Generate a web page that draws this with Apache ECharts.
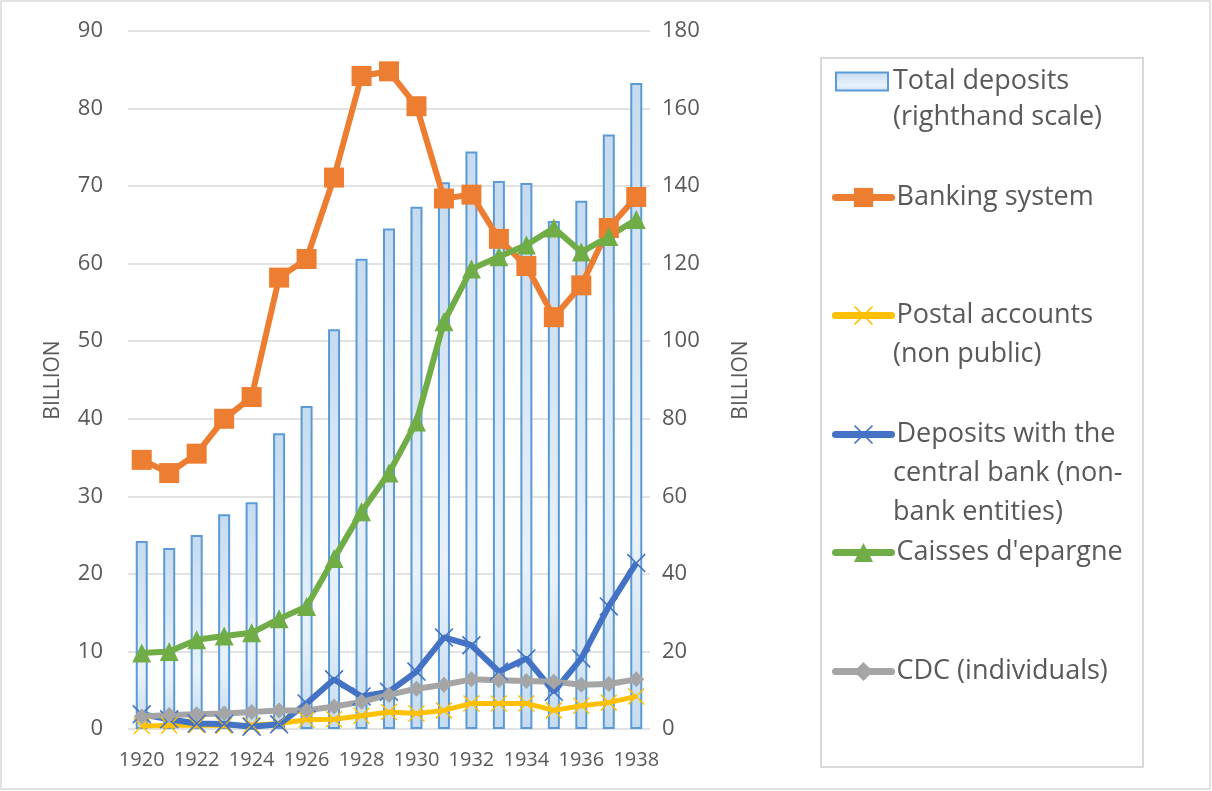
<!DOCTYPE html>
<html>
<head>
<meta charset="utf-8">
<script src="https://cdn.jsdelivr.net/npm/echarts@6/dist/echarts.min.js"></script>
<style>
  html, body { margin: 0; padding: 0; background: #fff; }
  #chart { width: 1212px; height: 791px; }
</style>
</head>
<body>
<div id="chart"></div>
<script>
const years = ["1920","1921","1922","1923","1924","1925","1926","1927","1928","1929",
  "1930","1931","1932","1933","1934","1935","1936","1937","1938"];
// billions, right-hand scale
const totalDeposits = [48.5,46.7,50.0,55.4,58.5,76.3,83.3,103.1,121.3,129.1,134.7,141.0,148.9,141.3,140.8,131.0,136.2,153.3,166.6];
// billions, left-hand scale
const banking = [34.7,33.0,35.5,40.0,42.8,58.2,60.6,71.1,84.2,84.8,80.3,68.4,68.9,63.2,59.7,53.1,57.2,64.6,68.6];
const postal = [0.4,0.45,0.5,0.45,0.5,0.7,1.2,1.25,1.7,2.2,2.0,2.4,3.3,3.3,3.3,2.4,3.0,3.4,4.2];
const centralBank = [1.9,1.25,0.7,0.65,0.3,0.6,3.3,6.4,4.2,4.8,7.4,11.8,10.8,7.4,9.1,4.8,9.1,15.8,21.4];
const caisses = [9.8,10.0,11.5,12.0,12.4,14.2,15.8,22.0,28.0,33.0,39.6,52.5,59.3,60.9,62.4,64.6,61.5,63.5,65.7];
const cdc = [1.6,1.8,1.9,2.0,2.2,2.4,2.4,2.9,3.5,4.4,5.2,5.7,6.4,6.3,6.2,6.1,5.7,5.8,6.4];

const names = {
  total: "Total deposits\n(righthand scale)",
  banking: "Banking system",
  postal: "Postal accounts\n(non public)",
  central: "Deposits with the\ncentral bank (non-\nbank entities)",
  caisses: "Caisses d'epargne",
  cdc: "CDC (individuals)"
};

const font = "'Open Sans', 'Liberation Sans', sans-serif";
const txt = "#595959";
const legendSize = 27;
const lineH = 39;
const crossPath = "path://M0,0.6L0.6,0L5,4.4L9.4,0L10,0.6L5.6,5L10,9.4L9.4,10L5,5.6L0.6,10L0,9.4L4.4,5Z";

// one legend per entry: the first line sits next to the icon,
// the rest of a wrapped name is written underneath as plain text
const legends = [];
const extraLines = [];
function addLegend(name, iconY, extra) {
  const parts = name.split("\n");
  legends.push(Object.assign({
    data: [name],
    left: 832,
    top: iconY - 12,
    padding: 0,
    itemWidth: 56,
    itemHeight: 24,
    selectedMode: false,
    formatter: (n) => n.split("\n")[0],
    lineStyle: { width: 7, cap: "round" },
    textStyle: { fontFamily: font, fontSize: legendSize, color: txt }
  }, extra || {}));
  for (let i = 1; i < parts.length; i++) {
    extraLines.push({
      type: "text",
      left: 893,
      top: iconY + i * lineH - 12,
      style: { text: parts[i], font: legendSize + "px " + font, fill: txt }
    });
  }
}
addLegend(names.total, 77, { left: 835, itemWidth: 52, itemHeight: 18, top: 68, icon: "rect" });
addLegend(names.banking, 196);
addLegend(names.postal, 314);
addLegend(names.central, 433);
addLegend(names.caisses, 551);
addLegend(names.cdc, 670);

const barFill = new echarts.graphic.LinearGradient(0, 0, 0, 1, [
  { offset: 0, color: "#c6dbf0" },
  { offset: 0.7, color: "#e9f2fb" },
  { offset: 1, color: "#c6dbf0" }
]);

function lineSeries(name, data, color, symbol, size, width) {
  return {
    name: name,
    type: "line",
    data: data,
    symbol: symbol,
    symbolSize: size,
    showAllSymbol: true,
    color: color,
    lineStyle: { width: width, color: color },
    itemStyle: { color: color }
  };
}

const chart = echarts.init(document.getElementById("chart"));
chart.setOption({
  animation: false,
  backgroundColor: "#fff",
  grid: { left: 128, right: 562, top: 31, bottom: 62 },
  graphic: [
    { type: "rect", shape: { x: 1, y: 1, width: 1209, height: 788 }, style: { fill: null, stroke: "#d9d9d9", lineWidth: 1.5 } },
    { type: "rect", shape: { x: 821, y: 58, width: 322, height: 709 }, style: { fill: null, stroke: "#d9d9d9", lineWidth: 2 } }
  ].concat(extraLines),
  legend: legends,
  xAxis: {
    type: "category",
    data: years,
    axisLine: { show: false },
    axisTick: { show: false },
    axisLabel: { interval: 1, color: txt, fontFamily: font, fontSize: 20, margin: 21 }
  },
  yAxis: [
    {
      type: "value",
      min: 0, max: 90, interval: 10,
      name: "BILLION",
      nameLocation: "middle",
      nameGap: 64,
      nameTextStyle: { color: txt, fontFamily: font, fontSize: 21 },
      axisLine: { show: false },
      axisTick: { show: false },
      axisLabel: { color: txt, fontFamily: font, fontSize: 22, margin: 25 },
      splitLine: { lineStyle: { color: "#d9d9d9", width: 1.5 } }
    },
    {
      type: "value",
      min: 0, max: 180, interval: 20,
      name: "BILLION",
      nameLocation: "middle",
      nameGap: 81,
      nameTextStyle: { color: txt, fontFamily: font, fontSize: 21 },
      axisLine: { show: false },
      axisTick: { show: false },
      axisLabel: { color: txt, fontFamily: font, fontSize: 22, margin: 12 },
      splitLine: { show: false }
    }
  ],
  series: [
    {
      name: names.total,
      type: "bar",
      yAxisIndex: 1,
      barWidth: 12,
      data: totalDeposits,
      itemStyle: { color: barFill, borderColor: "#5b9bd5", borderWidth: 2 }
    },
    lineSeries(names.banking, banking, "#ed7d31", "rect", 20, 6),
    lineSeries(names.postal, postal, "#ffc000", crossPath, 17, 5),
    lineSeries(names.central, centralBank, "#4472c4", crossPath, 19, 6),
    lineSeries(names.caisses, caisses, "#70ad47", "triangle", 19, 6),
    lineSeries(names.cdc, cdc, "#a5a5a5", "diamond", 16, 6)
  ]
});
</script>
</body>
</html>
